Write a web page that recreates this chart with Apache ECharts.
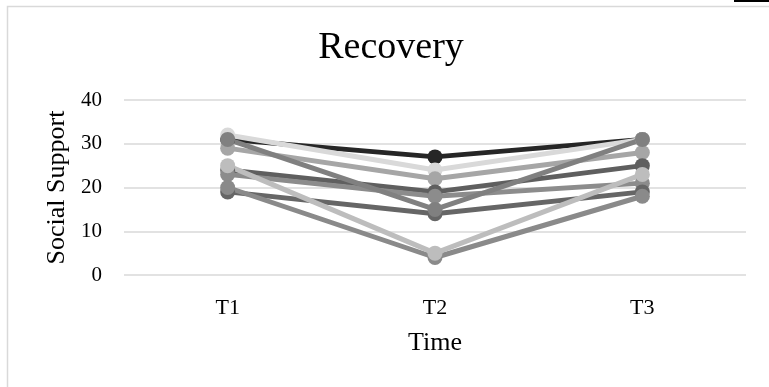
<!DOCTYPE html>
<html>
<head>
<meta charset="utf-8">
<script src="https://cdn.jsdelivr.net/npm/echarts@6/dist/echarts.min.js"></script>
<style>
  html, body { margin: 0; padding: 0; background: #ffffff; }
  #chart { width: 769px; height: 387px; }
</style>
</head>
<body>
<div id="chart"></div>
<script>
// Time points and social support scores per participant
const categories = ['T1', 'T2', 'T3'];
const yTicks = [0, 10, 20, 30, 40];

const p1 = [31, 27, 31];
const p2 = [32, 24, 31];
const p3 = [29, 22, 28];
const p4 = [24, 19, 25];
const p5 = [23, 18, 21];
const p6 = [19, 14, 19];
const p7 = [20, 4, 18];
const p8 = [25, 5, 23];
const p9 = [31, 15, 31];

const participants = [
  { name: 'P1', data: p1, color: '#262626' },
  { name: 'P2', data: p2, color: '#d9d9d9' },
  { name: 'P3', data: p3, color: '#a6a6a6' },
  { name: 'P4', data: p4, color: '#5f5f5f' },
  { name: 'P5', data: p5, color: '#8c8c8c' },
  { name: 'P6', data: p6, color: '#666666' },
  { name: 'P7', data: p7, color: '#8a8a8a' },
  { name: 'P8', data: p8, color: '#bdbdbd' },
  { name: 'P9', data: p9, color: '#808080' }
];

const FONT = 'Liberation Serif';
const chart = echarts.init(document.getElementById('chart'), null, { renderer: 'canvas' });

chart.setOption({
  animation: false,
  backgroundColor: '#ffffff',
  graphic: [
    // chart area frame
    { type: 'rect', shape: { x: 7.5, y: 6.5, width: 800, height: 420 },
      style: { fill: 'none', stroke: '#d9d9d9', lineWidth: 1.5 }, silent: true, z: -1 },
    { type: 'line', shape: { x1: 734, y1: 1, x2: 769, y2: 1 },
      style: { stroke: '#000000', lineWidth: 2 }, silent: true },
    // chart title
    { type: 'text', x: 391, y: 48,
      style: { text: 'Recovery', fontFamily: FONT, fontSize: 38, fill: '#000000',
               textAlign: 'center', textVerticalAlign: 'middle' }, silent: true }
  ],
  grid: { left: 124, right: 23, top: 100, bottom: 112 },
  xAxis: {
    type: 'category',
    data: categories,
    boundaryGap: true,
    name: 'Time',
    nameLocation: 'middle',
    nameGap: 55,
    nameTextStyle: { fontFamily: FONT, fontSize: 26, color: '#000000' },
    axisLine: { show: false },
    axisTick: { show: false },
    axisLabel: { fontFamily: FONT, fontSize: 22, color: '#000000', margin: 22 }
  },
  yAxis: {
    type: 'value',
    min: yTicks[0],
    max: yTicks[yTicks.length - 1],
    interval: 10,
    name: 'Social Support',
    nameLocation: 'middle',
    nameGap: 53,
    nameTextStyle: { fontFamily: FONT, fontSize: 26, color: '#000000' },
    axisLine: { show: false },
    axisTick: { show: false },
    axisLabel: { fontFamily: FONT, fontSize: 21, color: '#000000', margin: 22 },
    splitLine: { lineStyle: { color: '#d9d9d9', width: 1.5 } }
  },
  series: participants.map(p => ({
    name: p.name,
    type: 'line',
    data: p.data,
    symbol: 'circle',
    symbolSize: 15,
    lineStyle: { color: p.color, width: 5 },
    itemStyle: { color: p.color },
    emphasis: { disabled: true }
  }))
});
</script>
</body>
</html>
